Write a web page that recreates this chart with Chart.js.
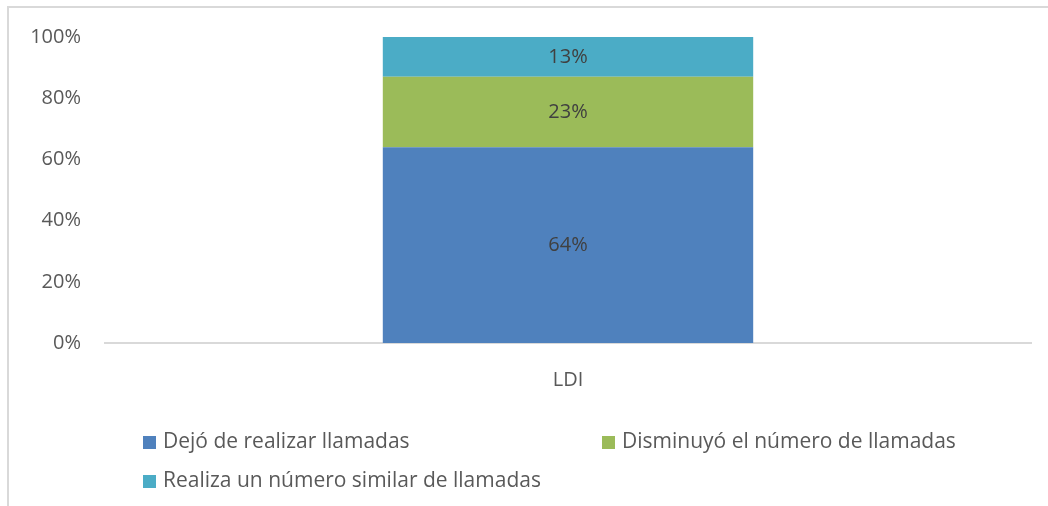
<!DOCTYPE html>
<html lang="es">
<head>
  <meta charset="UTF-8">
  <title>LDI</title>
  <script src="https://cdn.jsdelivr.net/npm/chart.js"></script>
  <style>
    html, body { margin: 0; padding: 0; background: #fff; }
    canvas { display: block; }
  </style>
</head>
<body>
  <canvas id="ldiChart" width="1048" height="506"></canvas>
  <script>
    // data
    const categories = ['LDI'];
    const seriesNames = ['Dejó de realizar llamadas', 'Disminuyó el número de llamadas', 'Realiza un número similar de llamadas'];
    const dejo = [64];
    const disminuyo = [23];
    const similar = [13];
    const yTicks = [0, 20, 40, 60, 80, 100];

    const colors = ['#4F81BD', '#9BBB59', '#4BACC6'];
    const FONT = '"Open Sans", sans-serif';

    // value labels in the middle of each segment
    const valueLabels = {
      id: 'valueLabels',
      afterDatasetsDraw(chart) {
        const ctx = chart.ctx;
        ctx.save();
        ctx.font = '20px ' + FONT;
        ctx.fillStyle = '#404040';
        ctx.textAlign = 'center';
        ctx.textBaseline = 'middle';
        chart.data.datasets.forEach((ds, i) => {
          chart.getDatasetMeta(i).data.forEach((bar, j) => {
            const mid = (bar.y + bar.base) / 2;
            ctx.fillText(ds.data[j] + '%', bar.x, mid);
          });
        });
        ctx.restore();
      }
    };

    // excel style legend + frame of the chart area
    const excelLegend = {
      id: 'excelLegend',
      afterDraw(chart) {
        const ctx = chart.ctx;
        ctx.save();
        // frame
        ctx.strokeStyle = '#d9d9d9';
        ctx.lineWidth = 2;
        ctx.beginPath();
        ctx.moveTo(8, 506);
        ctx.lineTo(8, 7);
        ctx.lineTo(1048, 7);
        ctx.stroke();

        const spots = [[143, 442], [602, 442], [143, 481]];
        ctx.font = '21px ' + FONT;
        ctx.textBaseline = 'middle';
        ctx.textAlign = 'left';
        chart.data.datasets.forEach((ds, i) => {
          const [x, y] = spots[i];
          ctx.fillStyle = ds.backgroundColor;
          ctx.fillRect(x, y - 6, 13, 13);
          ctx.fillStyle = '#595959';
          ctx.fillText(ds.label, x + 20, y);
        });
        ctx.restore();
      }
    };

    new Chart(document.getElementById('ldiChart'), {
      type: 'bar',
      data: {
        labels: categories,
        datasets: [
          { label: seriesNames[0], data: dejo, backgroundColor: colors[0] },
          { label: seriesNames[1], data: disminuyo, backgroundColor: colors[1] },
          { label: seriesNames[2], data: similar, backgroundColor: colors[2] }
        ]
      },
      options: {
        responsive: false,
        animation: false,
        categoryPercentage: 0.8,
        barPercentage: 0.5,
        layout: { padding: { top: 37, right: 17, left: 0, bottom: 0 } },
        plugins: {
          legend: { display: false },
          tooltip: { enabled: false }
        },
        scales: {
          x: {
            stacked: true,
            grid: { display: false, drawTicks: false },
            border: { display: true, color: '#d9d9d9', width: 2 },
            ticks: { color: '#595959', font: { family: FONT, size: 20 }, padding: 25 },
            afterFit(scale) { scale.height = 163; }
          },
          y: {
            stacked: true,
            min: 0,
            max: 100,
            afterBuildTicks(scale) { scale.ticks = yTicks.map(v => ({ value: v })); },
            grid: { display: false, drawTicks: false },
            border: { display: false },
            ticks: {
              color: '#595959',
              font: { family: FONT, size: 20 },
              padding: 24,
              callback: v => v + '%'
            },
            afterFit(scale) { scale.width = 105; }
          }
        }
      },
      plugins: [valueLabels, excelLegend]
    });
  </script>
</body>
</html>
